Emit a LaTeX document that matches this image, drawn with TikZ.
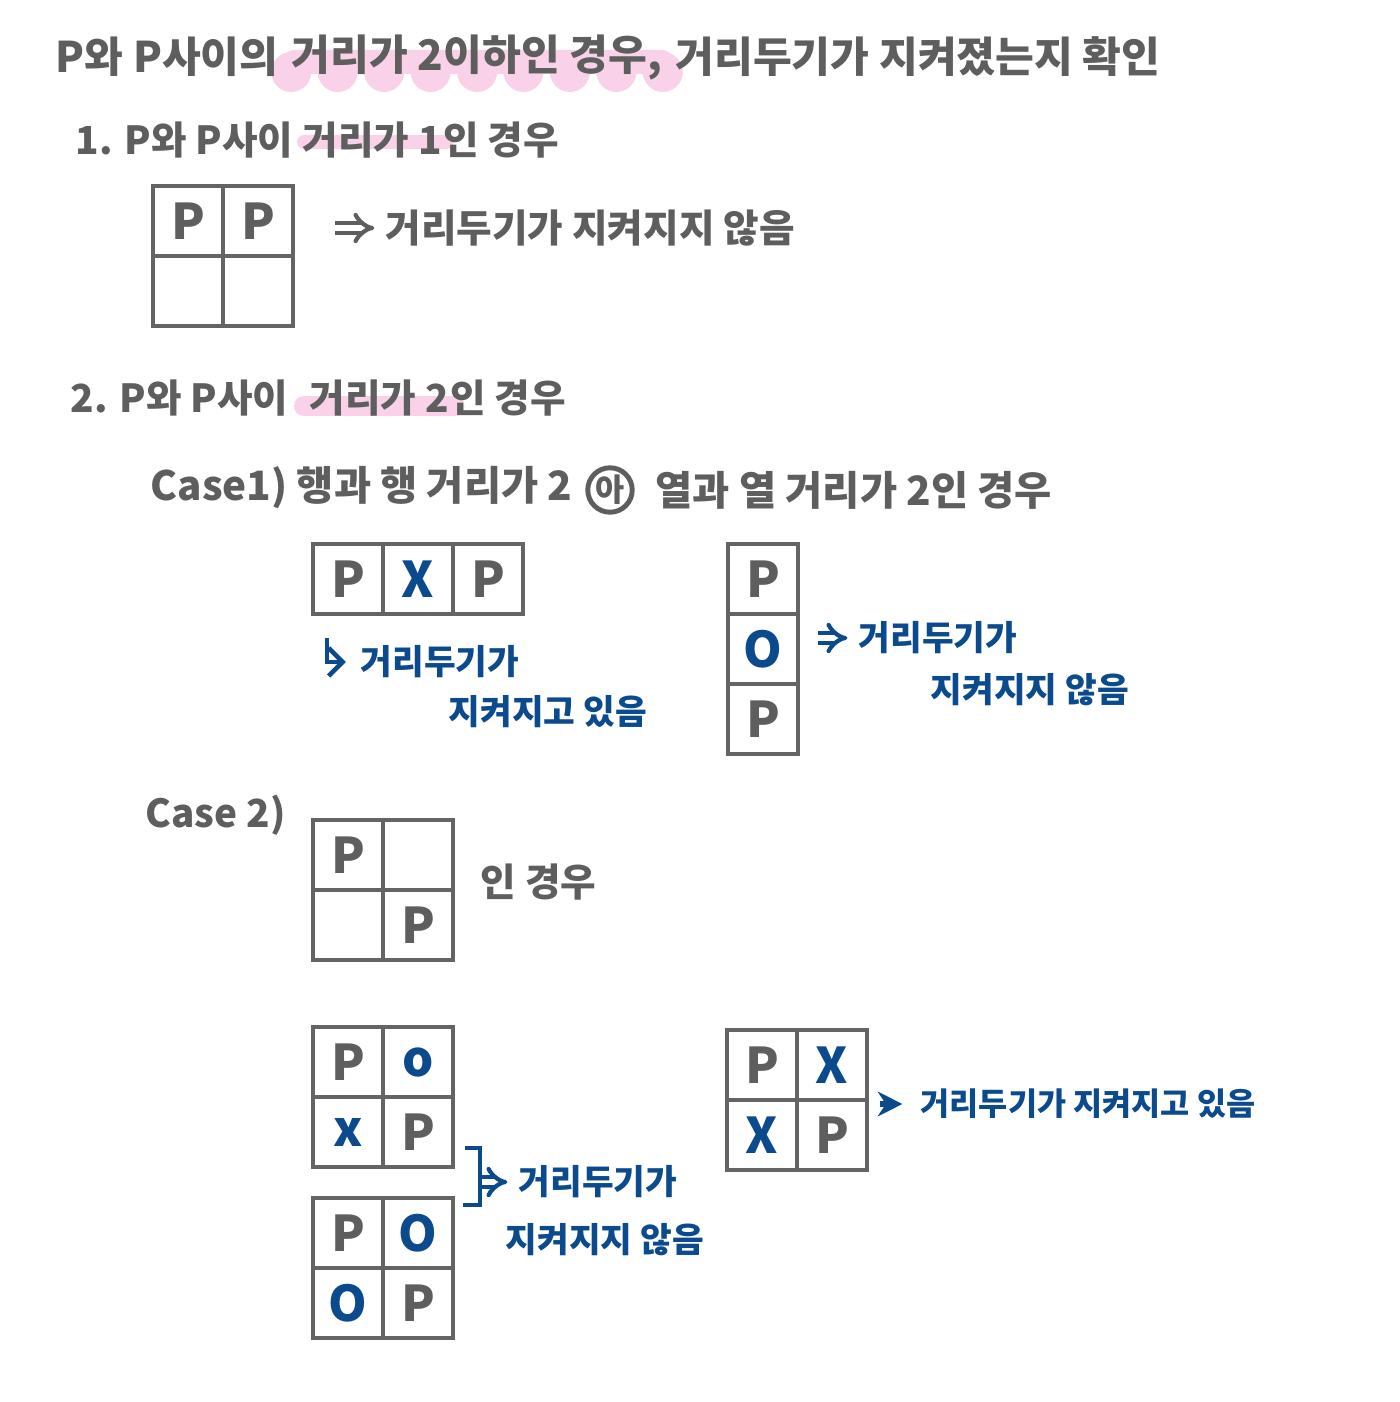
\documentclass[tikz,border=0pt]{standalone}
\usepackage{fontspec}
\usepackage{xcolor}
\usepackage{tikz}
\usetikzlibrary{calc}
\usetikzlibrary{arrows.meta}
\usetikzlibrary{positioning}
\usetikzlibrary{backgrounds}
\newfontfamily\kr{Noto Sans CJK KR}
\definecolor{penGray}{HTML}{5E5E5E}
\definecolor{gridGray}{HTML}{646464}
\definecolor{penBlue}{HTML}{0C4A8E}
\definecolor{hlPink}{HTML}{F9D2EA}
\tikzset{>=latex}
\tikzset{
  handtxt/.style = {draw=none, inner sep=0, anchor=west, text=penGray, font=\kr\bfseries\fontsize{11}{13}\selectfont},
  bluetxt/.style = {handtxt, text=penBlue, font=\kr\bfseries\fontsize{9.8}{11}\selectfont},
  cell/.style = {rectangle, draw=gridGray, line width=1.4pt, minimum size=7mm, inner sep=0, text=penGray, font=\kr\bfseries\fontsize{14}{14}\selectfont},
  hilite/.style = {draw=hlPink, line cap=round},
  dblarr/.style = {draw=penGray, line width=1.2pt, double, double distance=1.6pt, -{Implies}, shorten >=3pt},
  bluearr/.style = {draw=penBlue, line width=1.3pt}
}

\begin{document}
\begin{tikzpicture}[x=0.1mm, y=-0.1mm]
\useasboundingbox (0,0) rectangle (1400,1402);

\node [handtxt, font=\kr\bfseries\fontsize{12}{14}\selectfont] (ti1) at (55,57) {P와 P사이의};
\node [handtxt, font=\kr\bfseries\fontsize{12}{14}\selectfont, right=1.2mm of ti1] (ti2) {거리가 2이하인 경우,};
\node [handtxt, font=\kr\bfseries\fontsize{12}{14}\selectfont, right=1.2mm of ti2] (ti3) {거리두기가 지켜졌는지 확인};

%% 1.
\node [handtxt] (one1) at (75,140) {1. P와 P사이};
\node [handtxt, right=0.8mm of one1] (one2) {거리가 1};
\node [handtxt, right=0mm of one2] (one3) {인 경우};
\node [cell] (a11) at (188,221) {P};
\node [cell] (a12) at (258,221) {P};
\node [cell] (a21) at (188,291) {};
\node [cell] (a22) at (258,291) {};
\coordinate (a0) at (335,228);
\node [handtxt] (aT) at (385,228) {거리두기가 지켜지지 않음};
\draw [dblarr] (a0) to (aT.west);

%% 2.
\node [handtxt] (two1) at (70,398) {2. P와 P사이};
\node [handtxt, right=2mm of two1] (two2) {거리가 2};
\node [handtxt, right=0mm of two2] (two3) {인 경우};
\node [handtxt, font=\kr\bfseries\fontsize{11.5}{13}\selectfont] (c1a) at (150,488) {Case1) 행과 행 거리가 2};
\node [circle, draw=penGray, line width=1.4pt, inner sep=0.3pt, text=penGray, font=\kr\bfseries\fontsize{9}{9}\selectfont] (or) at (610,490) {아};
\node [handtxt, font=\kr\bfseries\fontsize{11.5}{13}\selectfont] (c1b) at (655,490) {열과 열 거리가 2인 경우};

% pink highlights
\begin{scope}[on background layer]
\fill [hlPink, rounded corners=3pt] ($(ti2.west)+(-8,-7)$) rectangle ($(ti2.east)+(10,17)$);
\foreach \k in {0,...,8}
  \fill [hlPink] ($(ti2.west)!\k/8!(ti2.east)+(0,15)$) circle (20);
\draw [hilite, line width=1.4mm] ($(one2.west)+(2,2)$) -- ($(one2.east)+(4,2)$);
\draw [hilite, line width=2mm] ($(two2.west)+(-5,8)$) -- ($(two2.east)+(5,8)$);
\end{scope}

% row case
\node [cell] (b1) at (348,579) {P};
\node [cell, text=penBlue] (b2) at (418,579) {X};
\node [cell] (b3) at (488,579) {P};
\coordinate (b0) at (327,638);
\node [bluetxt] (bT1) at (360,662) {거리두기가};
\node [bluetxt] (bT2) at (448,712) {지켜지고 있음};
\draw [bluearr, -{Straight Barb[length=4pt]}, shorten >=4pt] (b0) |- (bT1.west);

% column case
\node [cell] (c1) at (763,579) {P};
\node [cell, text=penBlue] (c2) at (763,649) {O};
\node [cell] (c3) at (763,719) {P};
\coordinate (c0) at (818,638);
\node [bluetxt] (cT1) at (858,638) {거리두기가};
\node [bluetxt] (cT2) at (930,690) {지켜지지 않음};
\draw [dblarr, draw=penBlue] (c0) to (cT1.west);

%% case 2
\node [handtxt] (c2t) at (145,815) {Case 2)};
\node [cell] (d11) at (348,855) {P};
\node [cell] (d12) at (418,855) {};
\node [cell] (d21) at (348,925) {};
\node [cell] (d22) at (418,925) {P};
\node [handtxt] (dT) at (480,882) {인 경우};

\node [cell] (e11) at (348,1062) {P};
\node [cell, text=penBlue] (e12) at (418,1062) {o};
\node [cell, text=penBlue] (e21) at (348,1132) {x};
\node [cell] (e22) at (418,1132) {P};

\node [cell] (f11) at (348,1233) {P};
\node [cell, text=penBlue] (f12) at (418,1233) {O};
\node [cell, text=penBlue] (f21) at (348,1303) {O};
\node [cell] (f22) at (418,1303) {P};

\draw [bluearr] (465,1148) -- (480,1148) -- (480,1205) -- (463,1205);
\coordinate (ef0) at (482,1182);
\node [bluetxt] (efT1) at (518,1182) {거리두기가};
\node [bluetxt] (efT2) at (505,1240) {지켜지지 않음};
\draw [dblarr, draw=penBlue] (ef0) to (efT1.west);

\node [cell] (g11) at (762,1065) {P};
\node [cell, text=penBlue] (g12) at (832,1065) {X};
\node [cell, text=penBlue] (g21) at (762,1135) {X};
\node [cell] (g22) at (832,1135) {P};
\coordinate (g0) at (880,1104);
\node [bluetxt, font=\kr\bfseries\fontsize{9}{11}\selectfont] (gT) at (920,1104) {거리두기가 지켜지고 있음};
\draw [bluearr, line width=1.8pt, -{Stealth[length=7pt, width=7pt]}, shorten >=5pt] (g0) to (gT.west);
\end{tikzpicture}
\end{document}
